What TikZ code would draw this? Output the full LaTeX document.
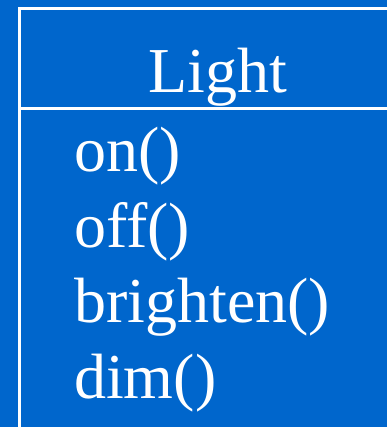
\documentclass[tikz,border=0pt]{standalone}
\usepackage{fontspec}
\setmainfont{Liberation Serif}
\usetikzlibrary{positioning}
\definecolor{slideblue}{HTML}{0066CC}
\tikzset{
  x=1pt, y=-1pt,
  rule/.style={draw=white, line width=3pt},
  classname/.style={text=white, font=\fontsize{64}{72}\selectfont, anchor=base, inner sep=0pt},
  method/.style={classname, anchor=base west},
}
\begin{document}
\begin{tikzpicture}
  % slide background
  \useasboundingbox[fill=slideblue] (0,0) rectangle (387,427);
  % class box outline and name compartment
  \draw[rule] (19.5,427) -- (19.5,8.5) -- (387,8.5);
  \draw[rule] (19.5,108.5) -- (387,108.5);
  \node[classname] (light) at (218,93) {Light};
  % operations
  \node[method] (on) at (74,172) {on()};
  \node[method] (off) at (74,247) {off()};
  \node[method] (brighten) at (74,322) {brighten()};
  \node[method] (dim) at (74,398) {dim()};
\end{tikzpicture}
\end{document}
